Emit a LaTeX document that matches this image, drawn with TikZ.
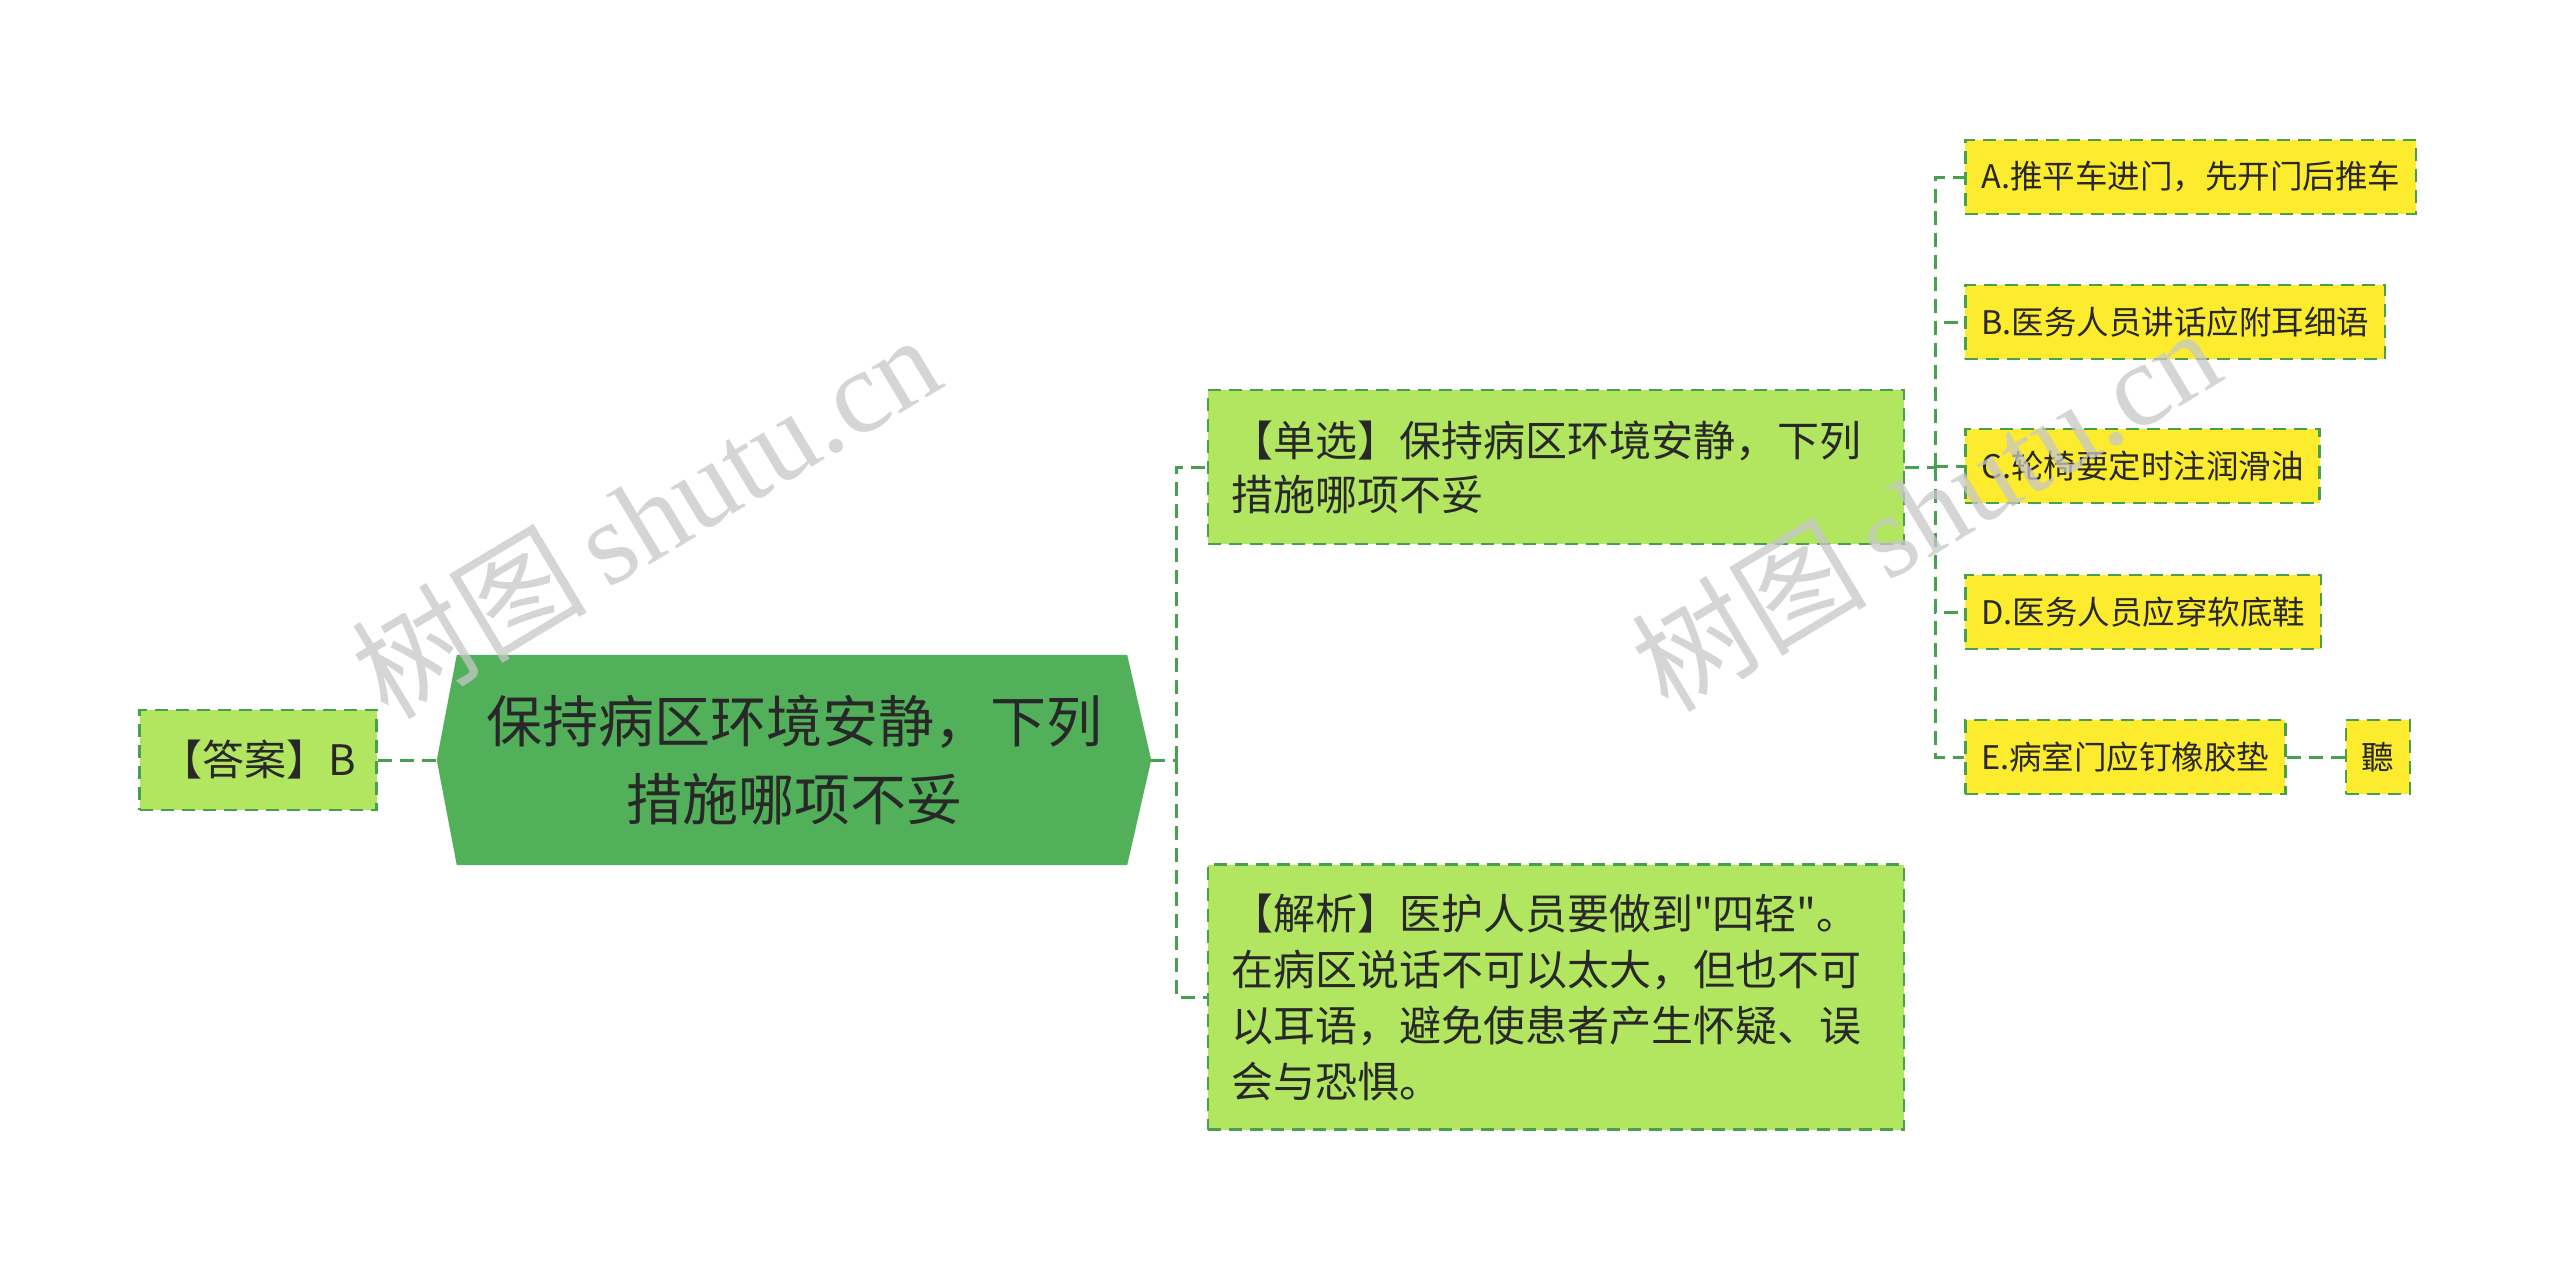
\documentclass[tikz,border=0pt]{standalone}
\usepackage{fontspec}
\newfontfamily\cjk{Noto Sans CJK SC}
\newfontfamily\wmcjk{Noto Sans CJK SC}
\newfontfamily\wmlat{Liberation Serif}
\definecolor{hexgreen}{RGB}{82,176,91}
\definecolor{lightgreen}{RGB}{178,229,96}
\definecolor{optyellow}{RGB}{253,236,46}
\definecolor{bordergreen}{RGB}{70,160,78}
\definecolor{textdark}{RGB}{40,40,40}
\tikzset{
  boxstyle/.style={draw=bordergreen, line width=2.5pt, dash pattern=on 13pt off 8pt, text=textdark, inner sep=0pt},
  greenbox/.style={boxstyle, fill=lightgreen},
  optbox/.style={boxstyle, fill=optyellow, anchor=west, minimum height=74pt, inner xsep=16pt,
     font=\cjk\fontsize{32.5}{40}\selectfont},
  conn/.style={draw=bordergreen, line width=3pt, dash pattern=on 14pt off 8pt},
  wm/.style={text=black!22, text opacity=0.75, rotate=31}
}
\begin{document}
\begin{tikzpicture}[x=1pt,y=-1pt]
\useasboundingbox (0,0) rectangle (2560,1270);
% answer
\node[greenbox, minimum width=237pt, minimum height=100pt, font=\cjk\fontsize{42}{54}\selectfont] (ans) at (258,760) {【答案】B};
% central hexagon
\node[minimum width=714pt, minimum height=210pt, inner sep=0pt] (hex) at (794,760) {};
\fill[hexgreen] (hex.west) -- ([xshift=20pt]hex.north west) -- ([xshift=-24pt]hex.north east) -- (hex.east) -- ([xshift=-24pt]hex.south east) -- ([xshift=20pt]hex.south west) -- cycle;
\node[text=textdark, align=center, font=\cjk\fontsize{56}{78}\selectfont] (hextext) at (hex.center) {保持病区环境安静，下列\\措施哪项不妥};
% single choice
\node[greenbox, minimum width=696pt, minimum height=154pt, text width=650pt, align=left, font=\cjk\fontsize{42}{54}\selectfont] (single) at (1556,467) {【单选】保持病区环境安静，下列\\措施哪项不妥};
% analysis
\node[greenbox, minimum width=696pt, minimum height=265pt, text width=650pt, align=left, font=\cjk\fontsize{42}{56}\selectfont] (anal) at (1556,997) {【解析】医护人员要做到"四轻"。\\在病区说话不可以太大，但也不可\\以耳语，避免使患者产生怀疑、误\\会与恐惧。};
% options
\node[optbox] (oa) at (1964,177) {A.推平车进门，先开门后推车};
\node[optbox] (ob) at (1964,322) {B.医务人员讲话应附耳细语};
\node[optbox] (oc) at (1964,466) {C.轮椅要定时注润滑油};
\node[optbox] (od) at (1964,612) {D.医务人员应穿软底鞋};
\node[optbox] (oe) at (1964,757) {E.病室门应钉橡胶垫};
\node[optbox, anchor=center, minimum width=64pt, inner xsep=0pt] (ting) at (2378,757) {聽};
% connectors
\draw[conn] (ans.east) -- (hex.west);
\coordinate (t1) at (1176,760);
\draw[conn] (hex.east) -- (t1);
\draw[conn] (t1) |- (single.west);
\draw[conn] (t1) |- (anal.west);
\coordinate (t2) at (1935,467);
\draw[conn] (single.east) -- (t2);
\foreach \o in {oa,ob,oc,od,oe} {\draw[conn] (t2) |- (\o.west);}
\draw[conn] (oe.east) -- (ting.west);
% watermarks
\node[wm] (wm1) at (645,515) {\fontsize{118}{118}\selectfont\wmcjk 树图\,\wmlat shutu.cn};
\node[wm] (wm2) at (1925,508) {\fontsize{118}{118}\selectfont\wmcjk 树图\,\wmlat shutu.cn};
\end{tikzpicture}
\end{document}
